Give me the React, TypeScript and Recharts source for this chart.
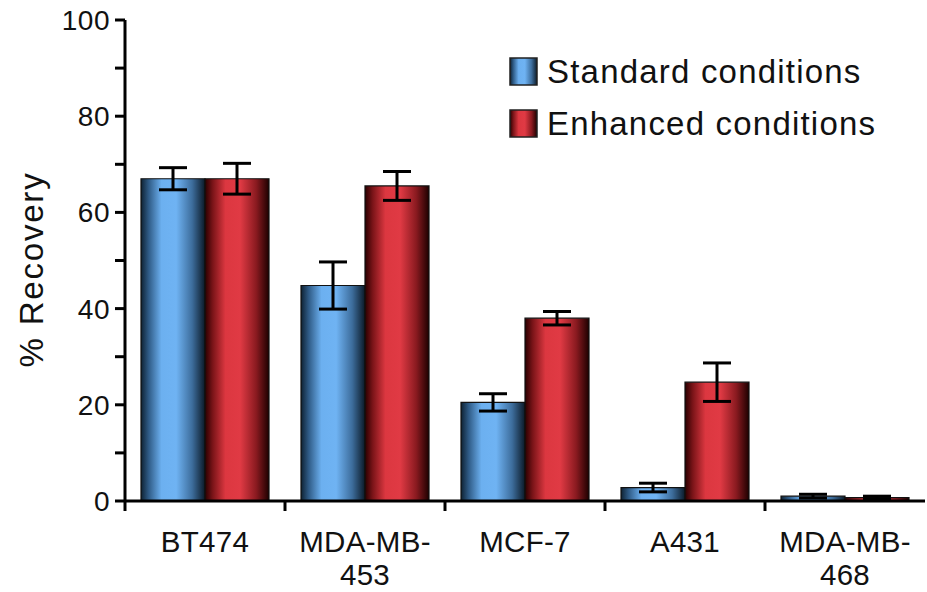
import React from "react";
import {BarChart, Bar, XAxis, YAxis, ErrorBar} from "recharts";

const categories = ["BT474", "MDA-MB-453", "MCF-7", "A431", "MDA-MB-468"];
const tickLabels = [["BT474"], ["MDA-MB-", "453"], ["MCF-7"], ["A431"], ["MDA-MB-", "468"]];
const standard = [67, 44.8, 20.5, 2.8, 1.0];
const standardErr = [2.3, 4.9, 1.8, 0.9, 0.4];
const enhanced = [67, 65.5, 38, 24.7, 0.7];
const enhancedErr = [3.2, 3, 1.4, 4, 0.3];
const yTicks = [0, 10, 20, 30, 40, 50, 60, 70, 80, 90, 100];
const seriesNames = ["Standard conditions", "Enhanced conditions"];

const data = categories.map((c, i) => ({
  name: c,
  standard: standard[i],
  standardErr: standardErr[i],
  enhanced: enhanced[i],
  enhancedErr: enhancedErr[i],
}));

const FONT = "'Liberation Sans', Arial, Helvetica, sans-serif";

// label + tick mark at the left edge of each category band
function CategoryTick({x, y, payload, index, width}: any) {
  const lines = tickLabels[index] || [payload.value];
  const half = payload.offset || width / (2 * categories.length);
  return (
    <g>
      <line x1={x - half} x2={x - half} y1={y} y2={y + 10} stroke="#000" strokeWidth={3} />
      <text x={x} y={y} textAnchor="middle" fontFamily={FONT} fontSize={29.5} fill="#111" letterSpacing={0.3}>
        {lines.map((l, i) => (
          <tspan key={i} x={x} dy={i === 0 ? 51 : 33}>
            {l}
          </tspan>
        ))}
      </text>
    </g>
  );
}

function YTick({x, y, payload}: any) {
  if (payload.value % 20 !== 0) return null;
  return (
    <text x={x - 3} y={y} dy={10} textAnchor="end" fontFamily={FONT} fontSize={28} fill="#111" letterSpacing={0.5}>
      {payload.value}
    </text>
  );
}

function YLabel({viewBox}: any) {
  const cx = viewBox.x + 31;
  const cy = viewBox.y + viewBox.height / 2 + 9;
  return (
    <text
      x={cx}
      y={cy}
      transform={`rotate(-90, ${cx}, ${cy})`}
      textAnchor="middle"
      dominantBaseline="central"
      fontFamily={FONT}
      fontSize={33}
      letterSpacing={1.8}
      fill="#111"
    >
      % Recovery
    </text>
  );
}

function LegendBox() {
  const fills = ["url(#blueGrad)", "url(#redGrad)"];
  return (
    <div style={{position: "absolute", left: 509, top: 46, fontFamily: FONT, fontSize: 33, letterSpacing: 1.2, color: "#111"}}>
      {seriesNames.map((label, i) => (
        <div key={label} style={{display: "flex", alignItems: "center", height: 52, whiteSpace: "nowrap"}}>
          <svg width={30} height={30} style={{marginRight: 8}}>
            <rect x={1} y={1} width={27} height={27} fill={fills[i]} stroke="#222" strokeWidth={1.5} />
          </svg>
          <span>{label}</span>
        </div>
      ))}
    </div>
  );
}

export default function App() {
  return (
    <div style={{position: "absolute", left: 0, top: 0, width: 927, height: 592, background: "#fff"}}>
      <BarChart
        width={927}
        height={592}
        data={data}
        margin={{top: 20, right: 2, left: 0, bottom: 0}}
        barCategoryGap="10%"
        barGap={0}
      >
        <defs>
          <linearGradient id="blueGrad" x1="0" y1="0" x2="1" y2="0">
            <stop offset="0%" stopColor="#0e2233" />
            <stop offset="12%" stopColor="#2f5b86" />
            <stop offset="32%" stopColor="#6cb0f0" />
            <stop offset="55%" stopColor="#6fb3f3" />
            <stop offset="80%" stopColor="#3d6d9c" />
            <stop offset="100%" stopColor="#0b1a28" />
          </linearGradient>
          <linearGradient id="redGrad" x1="0" y1="0" x2="1" y2="0">
            <stop offset="0%" stopColor="#2a0000" />
            <stop offset="12%" stopColor="#7a1418" />
            <stop offset="32%" stopColor="#dc3740" />
            <stop offset="55%" stopColor="#e03a44" />
            <stop offset="80%" stopColor="#8a1a20" />
            <stop offset="100%" stopColor="#1e0000" />
          </linearGradient>
        </defs>
        <XAxis
          dataKey="name"
          interval={0}
          height={91}
          axisLine={{stroke: "#000", strokeWidth: 3}}
          tickLine={false}
          tickSize={0}
          tickMargin={0}
          tick={<CategoryTick />}
        />
        <YAxis
          domain={[0, 100]}
          ticks={yTicks}
          width={125}
          axisLine={{stroke: "#000", strokeWidth: 3}}
          tickLine={{stroke: "#000", strokeWidth: 3}}
          tickSize={10}
          tick={<YTick />}
          label={<YLabel />}
        />
        <Bar dataKey="standard" name={seriesNames[0]} fill="url(#blueGrad)" stroke="#111" strokeWidth={1.2} isAnimationActive={false}>
          <ErrorBar dataKey="standardErr" width={14} strokeWidth={3} stroke="#000" />
        </Bar>
        <Bar dataKey="enhanced" name={seriesNames[1]} fill="url(#redGrad)" stroke="#111" strokeWidth={1.2} isAnimationActive={false}>
          <ErrorBar dataKey="enhancedErr" width={14} strokeWidth={3} stroke="#000" />
        </Bar>
      </BarChart>
      <LegendBox />
    </div>
  );
}
